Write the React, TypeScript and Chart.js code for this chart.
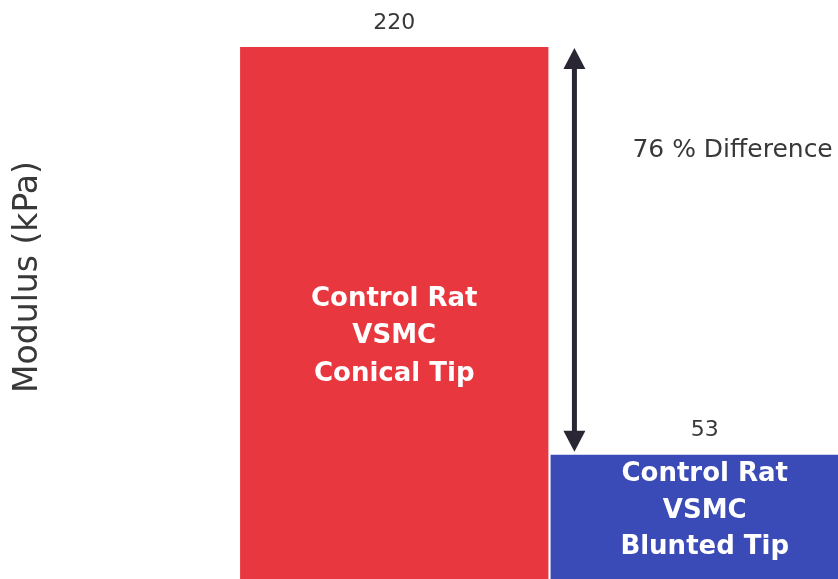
import React, { useEffect, useRef } from "react";
import { Chart, registerables } from "chart.js";

Chart.register(...registerables);

// Indentation tip geometry and measured stiffness
const categories = ["Conical Tip", "Blunted Tip"];
const modulusKPa = [220, 53];
const barTextLines = [
  ["Control Rat", "VSMC", "Conical Tip"],
  ["Control Rat", "VSMC", "Blunted Tip"],
];
const axisTitle = "Modulus (kPa)";

const barColors = ["#e8373f", "#3a4ab6"];
const textDark = "#383838";
const arrowColor = "#2a2633";
const FONT = "'DejaVu Sans', 'Liberation Sans', sans-serif";

const percentDifference = Math.round(
  ((modulusKPa[0] - modulusKPa[1]) / modulusKPa[0]) * 100
);
const differenceText = `${percentDifference} % Difference`;

// First text line offset below each bar's top edge
const innerTextOffset = [252, 20];
const innerLineGap = [37.5, 36.5];

const annotations = {
  id: "barAnnotations",
  afterDatasetsDraw(chart: any) {
    const { ctx, scales, chartArea } = chart;
    const meta = chart.getDatasetMeta(0);
    ctx.save();

    // rotated axis title
    ctx.save();
    ctx.translate(28, chartArea.top + 230);
    ctx.rotate(-Math.PI / 2);
    ctx.fillStyle = textDark;
    ctx.font = `33px ${FONT}`;
    ctx.textAlign = "center";
    ctx.textBaseline = "middle";
    ctx.fillText(axisTitle, 0, 0);
    ctx.restore();

    // values above bars and white labels inside
    meta.data.forEach((bar: any, i: number) => {
      ctx.fillStyle = textDark;
      ctx.font = `22px ${FONT}`;
      ctx.textAlign = "center";
      ctx.textBaseline = "middle";
      ctx.fillText(String(modulusKPa[i]), bar.x, bar.y - 24);

      ctx.fillStyle = "#ffffff";
      ctx.font = `bold 26px ${FONT}`;
      barTextLines[i].forEach((line, k) => {
        ctx.fillText(line, bar.x, bar.y + innerTextOffset[i] + k * innerLineGap[i]);
      });
    });

    // double-headed arrow spanning the two values
    const first = meta.data[0];
    const ax = first.x + first.width / 2 + 26;
    const yTop = scales.y.getPixelForValue(modulusKPa[0]) + 1;
    const yBot = scales.y.getPixelForValue(modulusKPa[1]) - 3;
    const headH = 21;
    const headW = 11;
    ctx.fillStyle = arrowColor;
    ctx.fillRect(ax - 2.5, yTop + headH - 2, 5, yBot - yTop - 2 * headH + 4);
    ctx.beginPath();
    ctx.moveTo(ax, yTop);
    ctx.lineTo(ax + headW, yTop + headH);
    ctx.lineTo(ax - headW, yTop + headH);
    ctx.closePath();
    ctx.fill();
    ctx.beginPath();
    ctx.moveTo(ax, yBot);
    ctx.lineTo(ax + headW, yBot - headH);
    ctx.lineTo(ax - headW, yBot - headH);
    ctx.closePath();
    ctx.fill();

    ctx.fillStyle = textDark;
    ctx.font = `25px ${FONT}`;
    ctx.textAlign = "left";
    ctx.textBaseline = "middle";
    ctx.fillText(differenceText, ax + 58, yTop + 102);

    ctx.restore();
  },
};

export default function App() {
  const canvasRef = useRef<HTMLCanvasElement | null>(null);

  useEffect(() => {
    if (!canvasRef.current) return;
    const chart = new Chart(canvasRef.current, {
      type: "bar",
      data: {
        labels: categories,
        datasets: [
          {
            data: modulusKPa,
            backgroundColor: barColors,
            borderWidth: 0,
            categoryPercentage: 1,
            barPercentage: 0.993,
          },
        ],
      },
      options: {
        responsive: false,
        animation: false,
        layout: { padding: { top: 47, right: 0, bottom: 0, left: 239 } },
        plugins: {
          legend: { display: false },
          tooltip: { enabled: false },
        },
        scales: {
          x: { display: false },
          y: { display: false, min: 0, max: 220 },
        },
      },
      plugins: [annotations],
    });
    return () => chart.destroy();
  }, []);

  return (
    <div
      style={{
        position: "fixed",
        left: 0,
        top: 0,
        width: 838,
        height: 579,
        overflow: "hidden",
        background: "#ffffff",
      }}
    >
      <canvas ref={canvasRef} width={860} height={584} style={{ display: "block" }} />
    </div>
  );
}
